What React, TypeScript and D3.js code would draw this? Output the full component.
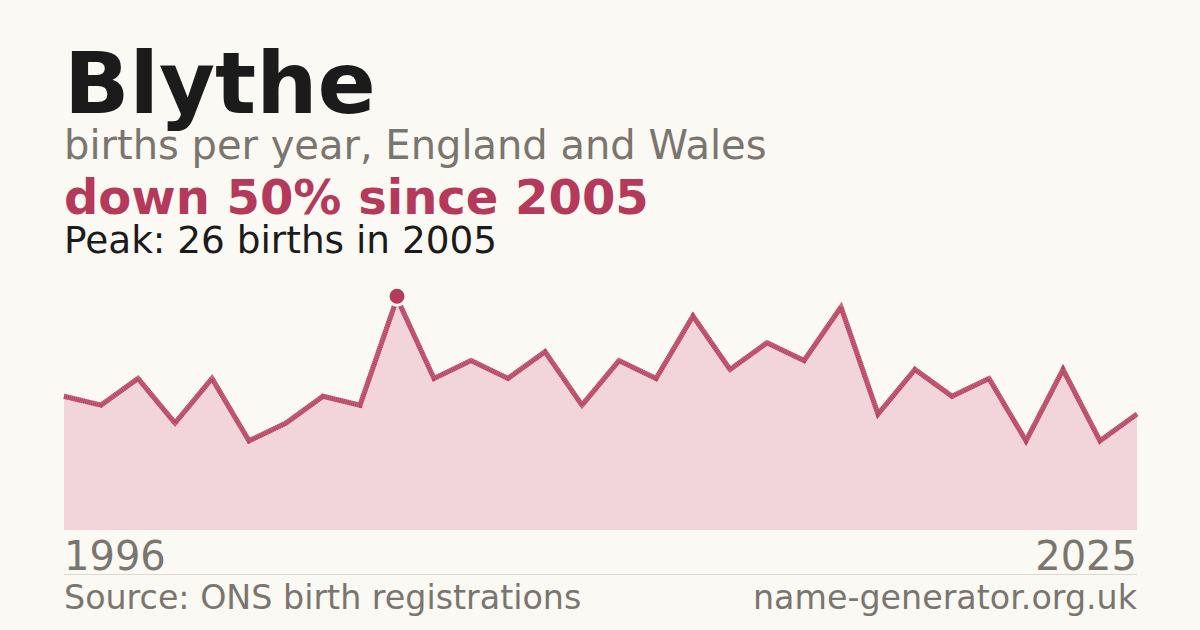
import * as d3 from 'd3';
import { FC } from 'react';

const years = d3.range(1996, 2026);
const births = [15, 14, 17, 12, 17, 10, 12, 15, 14, 26, 17, 19, 17, 20, 14, 19, 17, 24, 18, 21, 19, 25, 13, 18, 15, 17, 10, 18, 10, 13];

const title = 'Blythe';
const subtitle = 'births per year, England and Wales';
const headline = 'down 50% since 2005';
const peakNote = 'Peak: 26 births in 2005';
const source = 'Source: ONS birth registrations';
const site = 'name-generator.org.uk';

const W = 1200;
const H = 630;
const plot = { left: 64, right: 1137, top: 275, bottom: 530 };
const font = '"DejaVu Sans", sans-serif';
const red = '#b5395a';
const grey = '#7a756e';
const bg = '#faf9f4';

const App: FC = () => {
  const data = years.map((y, i) => ({ year: y, value: births[i] }));

  const x = d3.scaleLinear().domain([years[0], years[years.length - 1]]).range([plot.left, plot.right]);
  const y = d3.scaleLinear().domain([0, d3.max(births)! * 1.1]).range([plot.bottom, plot.top]);

  const area = d3
    .area<{ year: number; value: number }>()
    .x((d) => x(d.year))
    .y0(plot.bottom)
    .y1((d) => y(d.value));
  const line = d3
    .line<{ year: number; value: number }>()
    .x((d) => x(d.year))
    .y((d) => y(d.value));

  const peak = data.reduce((a, b) => (b.value > a.value ? b : a));

  return (
    <svg width={W} height={H} style={{ display: 'block', position: 'absolute', left: 0, top: 0 }}>
      <rect width={W} height={H} fill={bg} />
      <text x={64} y={113} fontFamily={font} fontWeight="bold" fontSize={86} fill="#1b1b1b">
        {title}
      </text>
      <text x={64} y={159} fontFamily={font} fontSize={40} fill={grey}>
        {subtitle}
      </text>
      <text x={64} y={214} fontFamily={font} fontWeight="bold" fontSize={48} fill={red}>
        {headline}
      </text>
      <text x={64} y={253} fontFamily={font} fontSize={37.4} fill="#1b1b1b">
        {peakNote}
      </text>

      <path d={area(data)!} fill="#f1d5da" />
      {/* textured stroke: soft base plus fine dashes on top */}
      <path d={line(data)!} fill="none" stroke={red} strokeOpacity={0.75} strokeWidth={5} />
      <path d={line(data)!} fill="none" stroke={red} strokeWidth={5} strokeDasharray="1 1" strokeOpacity={0.8} />
      <circle cx={x(peak.year)} cy={y(peak.value) - 2} r={9} fill={red} stroke={bg} strokeWidth={3} />

      <text x={plot.left} y={570} fontFamily={font} fontSize={40} fill={grey}>
        {years[0]}
      </text>
      <text x={plot.right} y={570} fontFamily={font} fontSize={40} fill={grey} textAnchor="end">
        {years[years.length - 1]}
      </text>
      <line x1={plot.left} x2={plot.right} y1={574.5} y2={574.5} stroke="#dcd8cf" strokeWidth={1} />
      <text x={plot.left} y={609} fontFamily={font} fontSize={33.3} fill={grey}>
        {source}
      </text>
      <text x={plot.right} y={609} fontFamily={font} fontSize={33.3} fill={grey} textAnchor="end">
        {site}
      </text>
    </svg>
  );
};

export default App;
